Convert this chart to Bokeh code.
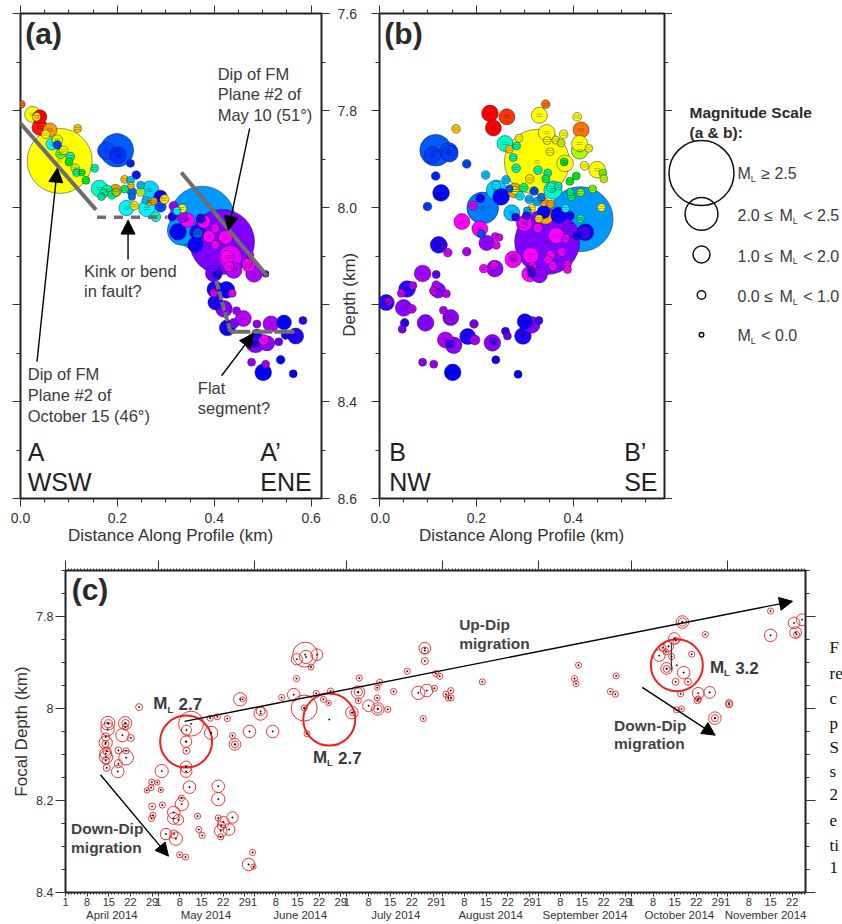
import math
import numpy as np
from bokeh.plotting import figure
from bokeh.layouts import row, column
from bokeh.models import (ColumnDataSource, Range1d, LinearAxis, FixedTicker, Label, Arrow,
                          NormalHead, LinearColorMapper, PrintfTickFormatter)
from bokeh.embed import file_html
from bokeh.resources import INLINE

# ---------- panel (a): distance (km), depth (km), magnitude, day since 1 April
a_x = [.002,.025,.040,.033,.040,.061,.118,.081,.065,.052,.076,.076,.089,.083,.103,.100,.113,.116,.127,.135,.153,
       .177,.199,.201,.227,.163,.196,.179,.172,.189,.197,.167,.215,.227,.239,.215,.228,.248,.230,.248,.230,.267,.289,
       .265,.258,.275,.297,.261,.289,.219,.235,.279,.375,.334,.416,.316,.334,.323,.313,.334,.344,.372,.378,.325,.365,
       .366,.361,.389,.402,.402,.423,.433,.427,.430,.440,.399,.406,.471,.468,.482,.506,.475,.402,.425,.399,.437,.402,
       .420,.446,.460,.488,.517,.544,.583,.427,.440,.488,.568,.547,.485,.502,.509,.533,.485,.477,.506,.537,.501,.563]
a_y = [7.787,7.808,7.813,7.813,7.835,7.840,7.837,7.904,7.869,7.849,7.861,7.871,7.882,7.889,7.895,7.906,7.919,7.928,7.928,7.944,7.919,
       7.883,7.882,7.892,7.909,7.961,7.965,7.964,7.971,7.974,7.968,7.978,7.942,7.944,7.933,7.962,7.955,7.954,7.968,7.968,7.978,7.964,7.978,
       7.988,7.985,7.987,7.983,8.002,7.998,8.001,7.996,8.019,8.023,8.047,8.071,7.997,8.002,8.007,8.019,8.020,8.026,8.023,8.029,8.050,8.051,
       8.053,8.077,8.060,8.043,8.077,8.062,8.102,8.102,8.122,8.129,8.136,8.138,8.119,8.115,8.137,8.137,8.098,8.169,8.170,8.176,8.177,8.196,
       8.209,8.213,8.229,8.240,8.240,8.237,8.233,8.248,8.239,8.261,8.265,8.263,8.279,8.273,8.280,8.277,8.281,8.319,8.323,8.314,8.340,8.343]
a_m = [-.2,.91,.72,.03,.91,.72,-.09,3.2,.5,0,.33,0,.03,.23,.03,-.09,.03,-.09,-.35,-.09,-.09,
       1.03,1.97,.97,-.09,.97,.55,.23,0,0,-.09,-.2,-.09,-.09,.03,-.09,-.35,-.09,.13,.03,-.2,1.1,.65,
       -.09,-.2,-.2,.13,.97,.4,.85,.03,.23,2.7,1.82,2.7,.13,.03,-.09,0,.33,.79,.13,.65,.97,.85,
       .23,.85,.5,.03,.03,.72,1.45,.65,.23,.97,.97,-.09,.65,.23,.97,-.35,-.35,.97,.97,-.09,-.09,.79,
       .97,-.09,.91,-.09,.91,.79,-.09,.91,.23,.23,.91,.03,1.23,.33,.85,-.09,-.2,-.09,-.09,.03,.97,-.09]
a_day = [220,195,235,200,232,215,205,195,110,195,190,72,195,175,125,165,190,130,165,165,125,
         72,75,68,66,120,215,125,130,128,185,125,205,100,65,135,205,95,78,190,80,100,58,
         210,98,212,200,108,72,108,200,120,85,85,39,30,195,110,55,30,15,55,15,60,55,
         75,58,15,15,15,15,20,15,15,28,42,55,15,15,30,52,15,56,58,18,18,55,
         38,30,28,32,30,60,50,58,38,55,55,55,38,15,35,42,55,32,30,60,60,60]

# ---------- panel (b)
b_x = [.228,.263,.235,.343,.330,.408,.416,.158,.345,.380,.413,.259,.288,.346,.364,.375,.432,.283,.268,.325,.413,.352,.276,.383,.381,
       .116,.143,.109,.145,.180,.116,.219,.282,.327,.347,.423,.449,.461,.463,.406,.393,.343,.310,.261,.241,.241,.369,.358,.355,.440,.415,.394,.396,
       .298,.279,.279,.268,.319,.290,.309,.325,.334,.339,.353,.314,.251,.208,.213,.193,.127,.121,.099,.415,.458,.384,.273,.305,.339,.343,.329,.370,.393,.415,
       .281,.303,.346,.299,.296,.327,.170,.207,.210,.221,.239,.247,.241,.122,.131,.141,.180,.365,.394,.425,.422,.408,.384,.376,.353,.348,.358,.388,.388,
       .312,.276,.277,.238,.236,.215,.310,.330,.316,.312,.314,.089,.117,.057,.069,.045,.121,.117,.112,.138,.014,.019,.050,.067,.132,.147,.144,.095,.052,.047,.195,
       .136,.153,.144,.182,.197,.233,.235,.260,.264,.296,.300,.314,.329,.089,.112,.151,.240,.286]
b_y = [7.806,7.813,7.836,7.787,7.810,7.813,7.840,7.838,7.846,7.849,7.868,7.868,7.857,7.862,7.861,7.867,7.878,7.873,7.880,7.906,7.883,7.885,7.897,7.909,7.906,
       7.882,7.885,7.892,7.889,7.910,7.935,7.933,7.919,7.923,7.929,7.914,7.922,7.929,7.941,7.935,7.946,7.941,7.941,7.943,7.964,7.955,7.956,7.964,7.959,7.962,7.969,7.968,7.978,
       7.959,7.965,7.965,7.961,7.966,7.976,7.983,7.988,7.979,7.988,7.993,8.002,7.978,7.981,8.001,7.996,7.970,7.976,7.998,8.024,8.000,8.002,8.011,8.007,8.009,8.018,8.023,8.016,8.017,8.023,
       8.020,8.017,8.071,8.033,8.031,8.042,8.029,8.044,8.055,8.073,8.060,8.062,8.078,8.077,8.077,8.093,8.091,8.058,8.047,8.051,8.052,8.058,8.064,8.092,8.098,8.108,8.121,8.117,8.128,
       8.099,8.107,8.105,8.126,8.119,8.126,8.137,8.139,8.121,8.129,8.136,8.136,8.138,8.168,8.161,8.177,8.171,8.160,8.172,8.178,8.196,8.194,8.207,8.209,8.212,8.227,8.231,8.238,8.238,8.251,8.240,
       8.273,8.284,8.281,8.266,8.273,8.279,8.277,8.255,8.265,8.265,8.235,8.242,8.233,8.319,8.323,8.340,8.314,8.344]
b_m = [.97,.91,.91,.03,.91,.03,.91,.03,.97,.03,.91,.91,-.09,-.09,-.09,-.09,-.09,-.09,-.09,3.2,.97,-.09,-.09,.97,-.09,
       1.9,1.1,.97,.97,.03,.03,.03,.03,.03,-.09,.03,.97,-.09,-.09,-.09,-.09,-.09,.03,.03,1.23,.03,-.09,1.1,.23,-.09,-.09,-.2,-.09,
       .03,.8,-.09,-.2,.03,.03,.03,.03,-.09,.13,-.09,-.09,.97,.03,1.9,.03,.97,-.09,.03,2.7,-.09,-.09,.91,-.09,.65,.91,-.09,.91,.03,-.09,
       -.09,-.09,2.7,.91,.23,.13,.91,.91,-.09,.85,-.09,-.2,-.09,.97,.03,.03,.03,.91,.79,.97,.79,.03,.03,.03,.13,.03,.03,-.09,-.09,
       .91,.97,-.09,.97,.03,.03,.91,.91,-.09,-.09,-.09,.97,-.09,.97,-.09,-.09,.85,.03,.03,-.09,.91,-.09,.97,.03,-.09,.91,.03,.97,.03,-.09,.03,
       .91,.97,-.09,.91,.23,.97,-.09,-.09,-.09,.97,.85,.97,-.09,-.09,-.09,.97,-.09,-.09]
b_day = [235,228,238,220,195,195,220,205,195,195,195,120,195,195,195,190,195,125,205,195,185,195,125,195,165,
         75,72,70,70,72,66,95,125,125,128,195,195,180,190,165,165,145,200,95,98,105,125,120,120,180,180,135,145,
         140,215,190,75,72,105,90,90,80,212,212,195,58,55,80,20,62,62,70,85,195,110,95,90,60,212,200,58,55,128,
         50,48,39,18,15,15,15,15,75,35,18,18,18,55,50,22,28,15,40,60,50,55,20,15,15,15,15,15,15,
         15,15,20,35,15,15,15,36,15,45,48,32,45,52,28,22,38,30,25,25,52,30,36,28,28,36,32,38,52,38,38,
         30,36,50,55,30,36,45,52,40,55,58,38,48,34,30,60,58,60]

# ---------- panel (c): day since 1 April 2014, focal depth (km), magnitude
c_day = [13.7,13.9,13.6,13.0,13.0,12.9,13.0,13.1,13.4,13.0,13.3,19.3,19.4,18.4,19.3,21.1,17.1,19.6,19.6,17.1,16.9,23.8,31.1,27.9,29.7,27.7,26.3,30.8,28.0,31.3,28.3,27.8,
         40.6,39.1,39.0,39.0,39.1,39.0,39.0,47.1,40.1,37.5,37.6,35.0,34.9,36.5,42.7,43.1,44.2,32.5,35.1,35.7,36.9,38.8,49.4,49.4,49.4,51.1,54.0,50.4,50.2,52.9,50.2,
         46.8,49.1,52.3,54.0,54.8,54.8,56.5,57.3,59.5,67.0,63.1,63.1,60.5,59.2,60.8,69.9,73.8,74.7,77.2,77.2,78.1,74.8,77.5,77.8,81.3,79.4,81.1,83.4,85.1,85.7,85.3,
         92.6,92.8,94.6,94.7,94.7,95.0,98.0,101.0,101.0,100.8,100.8,101.6,104.2,106.1,110.5,114.1,116.2,116.2,116.2,119.7,121.0,119.3,116.8,115.7,123.0,124.6,123.8,124.7,134.8,
         165.9,164.6,165.1,176.2,177.8,178.1,199.5,199.5,206.9,196.9,197.4,195.0,193.1,194.2,192.0,196.0,202.5,197.7,194.4,194.4,199.9,197.3,201.3,198.9,204.6,208.3,204.4,204.7,197.6,199.2,
         210.0,210.0,214.6,214.6,228.0,228.0,235.6,238.2,236.1,236.4]
c_y = [8.032,8.033,8.045,8.062,8.074,8.077,8.098,8.106,8.093,8.113,8.129,8.032,8.032,8.058,8.040,8.064,8.091,8.092,8.107,8.120,8.137,7.997,8.136,8.160,8.161,8.172,8.178,8.177,8.213,8.210,8.232,8.239,
       8.033,8.047,8.072,8.072,8.092,8.127,8.137,8.053,8.171,8.195,8.208,8.226,8.239,8.242,8.234,8.263,8.276,8.273,8.273,8.283,8.318,8.323,8.169,8.197,8.238,8.247,8.237,8.255,8.266,8.263,8.279,
       8.021,8.018,8.022,8.059,8.078,8.078,7.980,7.980,8.050,8.050,8.011,8.006,8.313,8.339,8.344,7.976,7.970,7.935,7.999,7.999,8.055,7.893,7.883,7.888,7.883,7.910,7.967,7.980,7.988,7.962,8.024,
       8.009,8.009,7.965,7.964,7.983,7.934,7.994,8.001,8.001,7.977,7.955,7.943,8.002,7.963,7.919,7.966,7.869,7.874,7.897,7.924,7.930,7.956,7.961,8.022,7.969,7.961,7.977,7.977,7.942,
       7.906,7.935,7.946,7.963,7.969,7.929,7.812,7.812,7.839,7.848,7.852,7.865,7.868,7.877,7.885,7.887,7.882,7.906,7.913,7.914,7.922,7.942,7.942,7.968,7.967,7.965,7.982,7.979,8.003,8.001,
       8.021,8.021,7.988,7.991,7.788,7.841,7.814,7.807,7.835,7.839]
c_m = [1.1,.3,1.03,.3,1.03,.1,.85,1.03,.3,.2,.1,1.03,.2,1.03,-.1,.1,.1,-.1,1.17,.3,.95,.1,1.03,-.1,-.3,-.1,-.3,-.3,.1,-.1,-.1,-.1,
       1.94,.62,.8,2.7,.1,.85,.85,1.03,.95,-.1,1.03,.95,.85,.7,-.1,-.1,-.1,.8,.3,1.03,-.1,-.1,.95,1.03,-.1,.8,.8,.3,.95,.85,-.1,
       -.1,-.1,-.1,-.1,.85,.1,1.03,-.3,.95,.95,1.03,.4,-.1,.95,-.3,-.1,.95,-.1,2.0,-.1,-.1,.8,1.94,1.03,.85,-.1,-.1,-.1,-.3,-.1,2.7,
       .95,-.1,1.03,.3,-.1,-.1,.85,.95,.3,-.1,-.3,-.1,-.1,-.1,-.1,1.03,.85,.1,.1,-.1,-.1,-.1,.95,-.1,-.1,-.1,-.1,-.1,-.1,
       -.1,-.1,-.1,-.1,-.1,-.1,.95,.3,-.1,.85,-.1,.62,.1,-.1,.85,-.1,-.1,3.2,.85,.1,.95,.1,.1,-.1,.85,.85,.1,-.1,-.1,-.1,
       .95,.1,.1,.1,-.1,.95,.85,.85,.85,-.1]

# ---------- scale key, time colours, ticks
key_m = [2.5, 1.95, 1.0, 0.0, -0.9]
time_days = [0, 15, 39, 60, 85, 110, 130, 165, 195, 215, 235, 240]
time_cols = ["#ff00ff", "#ff00ff", "#7f00ff", "#0000ff", "#0099ff", "#00ffff", "#00ff90", "#00ff00",
             "#ffff00", "#ff9900", "#ff0000", "#ff0000"]
month_start = [0, 30, 61, 91, 122, 153, 183, 214]
month_center = [15, 45.4, 75.9, 106.8, 137.5, 168, 198.5, 226.4]
month_names = ["April 2014", "May 2014", "June 2014", "July 2014", "August 2014", "September 2014",
               "October 2014", "November 2014"]
day_labels = [1, 8, 15, 22, 29]
caption = ["F", "re", "c", "p", "S", "s", "2", "e", "ti", "1"]
caption_y = [7.867, 7.923, 7.978, 8.032, 8.084, 8.138, 8.188, 8.243, 8.297, 8.345]

SANS = "Liberation Sans"
TXT = "#3a3a3a"
GREY = "#6e6e6e"


def rgb(h):
    return [int(h[i:i + 2], 16) for i in (1, 3, 5)]


palette = []
for t in np.arange(0, 241):
    chans = [np.interp(t, time_days, [rgb(c)[k] for c in time_cols]) for k in range(3)]
    palette.append("#%02x%02x%02x" % tuple(int(v) for v in chans))
mapper = LinearColorMapper(palette=palette, low=0, high=240)


def diam_ab(m):
    return 65.0 if m >= 2.5 else 8.5 * 2 ** m


def diam_c(m):
    return 52.0 if m >= 2.5 else 6.5 * 2 ** m


def txt(p, x, y, s, size, bold=False, align="left", color=TXT, font=SANS, angle=0, xo=0, yo=0):
    p.add_layout(Label(x=x, y=y, text=s, text_font_size=f"{size}px", text_font=font,
                       text_font_style="bold" if bold else "normal", text_color=color,
                       text_align=align, text_baseline="middle", angle=angle, x_offset=xo, y_offset=yo))


def ml(p, x, y, rest, size, bold=False, prefix="", prefix_w=0):
    if prefix:
        txt(p, x, y, prefix, size, bold)
    txt(p, x, y, "M", size, bold, xo=prefix_w)
    w = prefix_w + 0.833 * size
    txt(p, x, y, "L", size * 0.55, bold, xo=w, yo=-size * 0.33)
    txt(p, x, y, rest, size, bold, xo=w + 0.65 * size)


def blank(ticks):
    return {t: "" for t in ticks}


def style_axis(ax, major=8, minor=4):
    ax.axis_line_color = None
    ax.major_tick_line_color = "#333333"
    ax.minor_tick_line_color = "#333333"
    ax.major_tick_in = 0
    ax.minor_tick_in = 0
    ax.major_tick_out = major
    ax.minor_tick_out = minor
    ax.major_label_text_font = SANS
    ax.major_label_text_color = "#333333"
    ax.major_label_text_font_size = "14px"
    ax.axis_label_text_font = SANS
    ax.axis_label_text_font_style = "normal"
    ax.axis_label_text_color = "#333333"
    ax.axis_label_text_font_size = "17px"


def no_labels(ax, ticks):
    ax.major_label_overrides = blank(ticks)
    ax.major_label_standoff = 0
    ax.major_label_text_font_size = "1px"


xt = [0.0, 0.2, 0.4, 0.6]
xm = [round(i * 0.05, 2) for i in range(0, 13)]
yt = [7.6, 7.8, 8.0, 8.2, 8.4, 8.6]
ym = [round(7.6 + i * 0.1, 1) for i in range(0, 11)]


def make_profile(xmax, width, left, right, lab_side):
    p = figure(width=width, height=550, output_backend="svg", toolbar_location=None,
               x_range=Range1d(0, xmax), y_range=Range1d(8.6, 7.6),
               x_axis_location="below", y_axis_location=lab_side,
               min_border_left=left, min_border_right=right, min_border_top=13, min_border_bottom=52,
               background_fill_color="white", border_fill_alpha=0)
    p.grid.visible = False
    p.outline_line_color = "#222222"
    p.outline_line_width = 2
    bx = p.xaxis[0]
    bx.ticker = FixedTicker(ticks=xt, minor_ticks=xm)
    style_axis(bx)
    bx.formatter = PrintfTickFormatter(format="%.1f")
    bx.major_label_standoff = 6
    bx.axis_label = "Distance Along Profile (km)"
    bx.axis_label_standoff = 0
    ly = p.yaxis[0]
    ly.ticker = FixedTicker(ticks=yt, minor_ticks=ym)
    style_axis(ly)
    top = LinearAxis(ticker=FixedTicker(ticks=xt, minor_ticks=xm))
    style_axis(top)
    no_labels(top, xt)
    p.add_layout(top, "above")
    other = LinearAxis(ticker=FixedTicker(ticks=yt, minor_ticks=ym))
    style_axis(other)
    no_labels(other, yt)
    p.add_layout(other, "left" if lab_side == "right" else "right")
    return p, ly


def quakes(p, xs, ys, ms, days):
    order = sorted(range(len(xs)), key=lambda i: -ms[i])
    src = ColumnDataSource(dict(x=[xs[i] for i in order], y=[ys[i] for i in order],
                                s=[diam_ab(ms[i]) for i in order], d=[days[i] for i in order]))
    r = p.scatter("x", "y", size="s", source=src, marker="circle",
                  fill_color={"field": "d", "transform": mapper},
                  line_color="#101030", line_width=0.6, line_alpha=0.75)
    xa = np.array(xs)
    ya = np.array(ys)
    for e in (-0.0022, 0.0022):
        p.scatter(xa, ya + e, marker="dash", size=6, line_color="#000000", line_width=0.5, line_alpha=0.55)
    return r


def arrow(p, x0, y0, x1, y1, head=14):
    p.add_layout(Arrow(end=NormalHead(size=head, fill_color="#000000", line_color="#000000"),
                       x_start=x0, y_start=y0, x_end=x1, y_end=y1,
                       line_color="#000000", line_width=1.4))


def bar(p, x0, y0, x1, y1, width=4, dash="solid"):
    p.add_layout(Arrow(end=None, x_start=x0, y_start=y0, x_end=x1, y_end=y1,
                       line_color=GREY, line_width=width, line_dash=dash))


# ---------- panel (a)
pa, ya = make_profile(0.6213, 370, 20, 49, "right")
ya.formatter = PrintfTickFormatter(format="%.1f")
ya.major_label_overrides = {8.2: ""}
ya.major_label_standoff = 8
quakes(pa, a_x, a_y, a_m, a_day)
bar(pa, -0.009, 7.816, 0.156, 8.005)
bar(pa, 0.332, 7.928, 0.509, 8.141)
bar(pa, 0.158, 8.020, 0.303, 8.020, width=3.5, dash="9 8")
bar(pa, 0.404, 8.151, 0.433, 8.256, dash="9 2")
bar(pa, 0.433, 8.256, 0.566, 8.256, dash="20 2")
arrow(pa, 0.034, 8.318, 0.076, 7.919)
arrow(pa, 0.473, 7.837, 0.429, 8.047)
arrow(pa, 0.222, 8.107, 0.222, 8.026)
arrow(pa, 0.415, 8.347, 0.481, 8.260)
txt(pa, 0.010, 7.642, "(a)", 30, bold=True, color="#2a2a2a")
for lab, y in [("Dip of FM", 7.725), ("Plane #2 of", 7.766), ("May 10 (51°)", 7.809)]:
    txt(pa, 0.407, y, lab, 16.5)
for lab, y in [("Kink or bend", 8.131), ("in fault?", 8.173)]:
    txt(pa, 0.131, y, lab, 16.5)
for lab, y in [("Dip of FM", 8.344), ("Plane #2 of", 8.387), ("October 15 (46°)", 8.430)]:
    txt(pa, 0.015, y, lab, 16.5)
for lab, y in [("Flat", 8.372), ("segment?", 8.414)]:
    txt(pa, 0.366, y, lab, 16.5)
txt(pa, 0.015, 8.504, "A", 25, color="#222222")
txt(pa, 0.015, 8.566, "WSW", 25, color="#222222")
txt(pa, 0.495, 8.504, "A’", 25, color="#222222")
txt(pa, 0.495, 8.566, "ENE", 25, color="#222222")

# depth title, on the depth scale of panel (a), overlapping its tick-label column
pd_title = figure(width=24, height=550, output_backend="svg", toolbar_location=None,
                  x_range=Range1d(0, 24), y_range=pa.y_range,
                  min_border_left=0, min_border_right=0, min_border_top=13, min_border_bottom=52,
                  background_fill_alpha=0, border_fill_alpha=0, margin=(0, 9, 0, -33))
pd_title.axis.visible = False
pd_title.grid.visible = False
pd_title.outline_line_color = None
txt(pd_title, 12, 8.18, "Depth (km)", 17, align="center", angle=math.pi / 2, color="#333333")

# ---------- panel (b)
pb, yb = make_profile(0.5882, 302, 9, 8, "left")
no_labels(yb, yt)
quakes(pb, b_x, b_y, b_m, b_day)
txt(pb, 0.010, 7.642, "(b)", 30, bold=True, color="#2a2a2a")
txt(pb, 0.020, 8.504, "B", 25, color="#222222")
txt(pb, 0.020, 8.566, "NW", 25, color="#222222")
txt(pb, 0.505, 8.504, "B’", 25, color="#222222")
txt(pb, 0.505, 8.566, "SE", 25, color="#222222")

# ---------- magnitude key
pk = figure(width=176, height=550, output_backend="svg", toolbar_location=None,
            x_range=Range1d(0, 176), y_range=Range1d(550, 0),
            min_border_left=0, min_border_right=0, min_border_top=0, min_border_bottom=0,
            background_fill_alpha=0, border_fill_alpha=0, margin=(0, 0, 0, -6))
pk.axis.visible = False
pk.grid.visible = False
pk.outline_line_color = None
key_y = [181, 227.3, 273.3, 319.3, 364.3]
key_x = [35] * 5
pk.scatter(key_x, key_y, marker="circle", size=[diam_ab(m) for m in key_m], fill_color=None,
           line_color="#111111", line_width=1.5)
txt(pk, 23, 112.7, "Magnitude Scale", 15.5, bold=True, color="#2a2a2a")
txt(pk, 23, 135, "(a & b):", 15.5, bold=True, color="#2a2a2a")
ml(pk, 71, 182, "≥ 2.5", 16)
ml(pk, 71, 229, "< 2.5", 16, prefix="2.0 ≤", prefix_w=42)
ml(pk, 71, 275, "< 2.0", 16, prefix="1.0 ≤", prefix_w=42)
ml(pk, 71, 321, "< 1.0", 16, prefix="0.0 ≤", prefix_w=42)
ml(pk, 71, 365, "< 0.0", 16)

# ---------- panel (c)
pc = figure(width=818, height=374, output_backend="svg", toolbar_location=None,
            x_range=Range1d(0, 239.3), y_range=Range1d(8.4, 7.7),
            min_border_left=65, min_border_right=13, min_border_top=20, min_border_bottom=32,
            background_fill_color="white", border_fill_alpha=0)
pc.grid.visible = False
pc.outline_line_color = "#222222"
pc.outline_line_width = 2
day_ticks = [m + d - 1 for m in month_start for d in day_labels if m + d - 1 <= 236]
day_over = {m + d - 1: str(d) for m in month_start for d in day_labels if m + d - 1 <= 236}
all_days = list(range(0, 240))
cb = pc.xaxis[0]
cb.ticker = FixedTicker(ticks=day_ticks, minor_ticks=all_days)
style_axis(cb, 4, 2)
cb.major_label_overrides = day_over
cb.major_label_standoff = 1
cb.major_label_text_font_size = "11px"
mo = LinearAxis(ticker=FixedTicker(ticks=month_center))
style_axis(mo, 0, 0)
mo.major_tick_line_color = None
mo.minor_tick_line_color = None
mo.major_label_overrides = dict(zip(month_center, month_names))
mo.major_label_standoff = 0
mo.major_label_text_font_size = "11.5px"
pc.add_layout(mo, "below")
cy = pc.yaxis[0]
cy.ticker = FixedTicker(ticks=[7.8, 8.0, 8.2, 8.4], minor_ticks=[round(7.7 + i * 0.05, 2) for i in range(15)])
style_axis(cy, 10, 4)
cy.major_label_standoff = 2
cy.major_label_text_font_size = "12.5px"
cy.axis_label = "Focal Depth (km)"
cy.axis_label_standoff = 2
ct = LinearAxis(ticker=FixedTicker(ticks=month_start, minor_ticks=all_days))
style_axis(ct, 10, 2)
no_labels(ct, month_start)
pc.add_layout(ct, "above")
cr = LinearAxis(ticker=FixedTicker(ticks=[7.8, 8.0, 8.2, 8.4], minor_ticks=[round(7.7 + i * 0.05, 2) for i in range(15)]))
style_axis(cr, 10, 4)
no_labels(cr, [7.8, 8.0, 8.2, 8.4])
pc.add_layout(cr, "right")

c_big = [m >= 2.5 for m in c_m]
pc.scatter(c_day, c_y, marker="circle", size=[diam_c(m) for m in c_m], fill_color=None,
           line_color="#f02020", line_width=[2.0 if b else 0.9 for b in c_big])
pc.scatter(c_day, c_y, marker="circle", size=1.6, fill_color="#000000", line_color="#000000", line_width=0.3)
pc.segment([195.9], [7.859], [195.9], [7.917], line_color="#111111", line_width=1)
arrow(pc, 11.3, 8.144, 33.3, 8.321, head=13)
arrow(pc, 38.5, 8.028, 235.1, 7.767, head=13)
arrow(pc, 186.5, 7.954, 210.1, 8.058, head=13)
txt(pc, 2.0, 7.742, "(c)", 30, bold=True, color="#2a2a2a")
ml(pc, 28.4, 7.99, "2.7", 17, bold=True)
ml(pc, 80.0, 8.107, "2.7", 17, bold=True)
ml(pc, 208.4, 7.911, "3.2", 17, bold=True)
for lab, x, y in [("Down-Dip", 1.8, 8.261), ("migration", 1.8, 8.302),
                  ("Up-Dip", 127.3, 7.817), ("migration", 127.3, 7.859),
                  ("Down-Dip", 177.4, 8.036), ("migration", 177.4, 8.077)]:
    txt(pc, x, y, lab, 15.5, bold=True, color="#444444")

# cut-off margin text beside panel (c), on the same depth scale
pcap = figure(width=24, height=374, output_backend="svg", toolbar_location=None,
              x_range=Range1d(0, 24), y_range=pc.y_range,
              min_border_left=0, min_border_right=0, min_border_top=20, min_border_bottom=32,
              background_fill_alpha=0, border_fill_alpha=0)
pcap.axis.visible = False
pcap.grid.visible = False
pcap.outline_line_color = None
for lab, y in zip(caption, caption_y):
    txt(pcap, 11, y, lab, 17, font="Liberation Serif", color="#111111")

page = column(row(pa, pd_title, pb, pk), row(pc, pcap))
open("out.html", "w").write(file_html(page, INLINE))
